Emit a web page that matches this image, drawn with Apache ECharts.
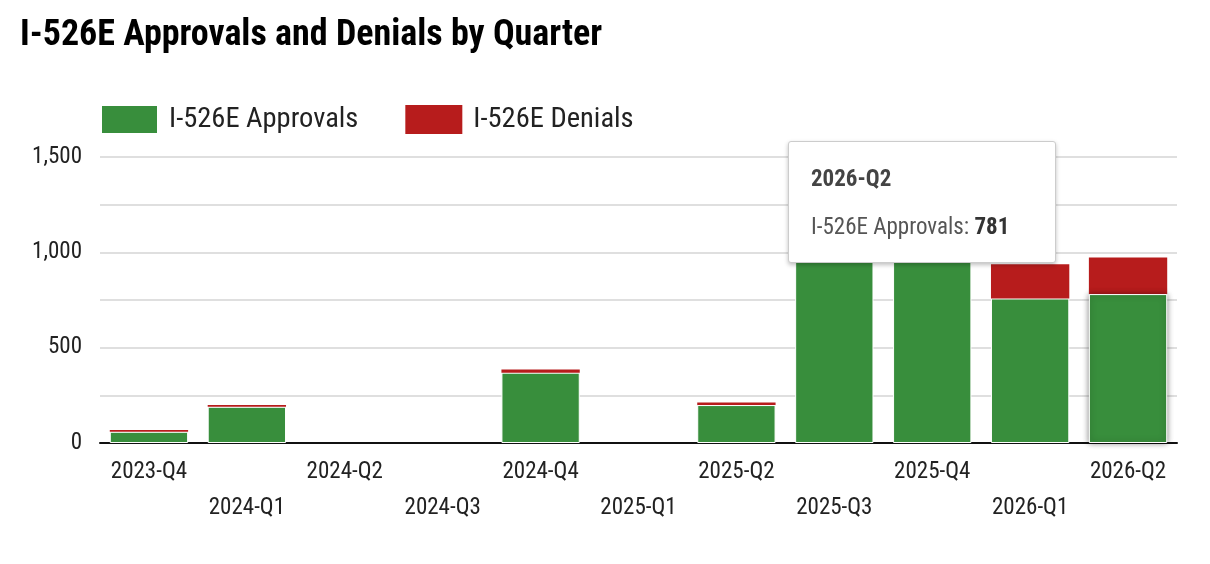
<!DOCTYPE html>
<html>
<head>
<meta charset="utf-8">
<script src="https://cdn.jsdelivr.net/npm/echarts@6/dist/echarts.min.js"></script>
<style>
  html, body { margin: 0; padding: 0; background: #fff; }
  #chart { width: 1210px; height: 564px; }
</style>
</head>
<body>
<div id="chart"></div>
<script>
// quarters on the x axis
const quarters = ['2023-Q4', '2024-Q1', '2024-Q2', '2024-Q3', '2024-Q4', '2025-Q1',
  '2025-Q2', '2025-Q3', '2025-Q4', '2026-Q1', '2026-Q2'];
// values (Q3/Q4 2025 tops are hidden by the tooltip, estimated)
const approvals = [59, 190, null, null, 369, null, 199, 1090, 1160, 758, 781];
const denials = [9, 9, null, null, 17, null, 14, 60, 100, 180, 192];
const yTicks = [0, 500, 1000, 1500];

const FONT = '"Roboto Condensed", "Liberation Sans Narrow", "DejaVu Sans Condensed", Roboto, sans-serif';

let chart = echarts.init(document.getElementById('chart'));
chart.setOption({
  animation: false,
  textStyle: { fontFamily: FONT },
  title: {
    text: 'I-526E Approvals and Denials by Quarter',
    left: 15,
    top: 13,
    textStyle: { fontFamily: FONT, fontSize: 36, fontWeight: 'bold', color: '#000' }
  },
  legend: {
    left: 100,
    top: 104,
    padding: 0,
    itemWidth: 57,
    itemHeight: 29,
    itemGap: 47,
    icon: 'rect',
    textStyle: { fontFamily: FONT, fontSize: 28.5, color: '#222', padding: [0, 0, 0, 6] }
  },
  tooltip: {
    trigger: 'item',
    triggerOn: 'none',
    alwaysShowContent: true,
    position: [788, 141],
    padding: 0,
    backgroundColor: '#fff',
    borderColor: '#ccc',
    borderWidth: 1,
    borderRadius: 3,
    extraCssText: 'box-shadow:0 2px 4px rgba(0,0,0,0.25);width:268px;height:122px;box-sizing:border-box;',
    formatter: function (p) {
      return '<div style="padding:22px 0 0 22px;font-family:' + FONT.replace(/"/g, "'") + ';">' +
        '<div style="font-weight:bold;font-size:23px;line-height:30px;color:#444">' + p.name + '</div>' +
        '<div style="margin-top:18px;font-size:23px;line-height:30px;color:#555">' +
        p.seriesName + ': <b style="color:#333">' + p.value + '</b></div></div>';
    }
  },
  grid: { left: 100, right: 33, top: 157, bottom: 121 },
  xAxis: {
    type: 'category',
    data: quarters,
    axisLine: { lineStyle: { color: '#111', width: 2 } },
    axisTick: { show: false },
    axisLabel: {
      interval: 0,
      margin: 11,
      fontSize: 23,
      lineHeight: 36,
      color: '#222',
      formatter: function (v, i) { return i % 2 ? '\n' + v : v; }
    }
  },
  yAxis: {
    type: 'value',
    min: 0,
    max: 1500,
    interval: 250,
    axisLine: { show: false },
    axisTick: { show: false },
    splitLine: { lineStyle: { color: '#d4d4d4', width: 1.5 } },
    axisLabel: {
      margin: 18,
      fontSize: 23,
      color: '#222',
      formatter: function (v) {
        return yTicks.indexOf(v) >= 0 ? v.toLocaleString('en-US') : '';
      }
    }
  },
  series: [
    {
      name: 'I-526E Approvals',
      type: 'bar',
      stack: 'total',
      barCategoryGap: '20%',
      color: '#388e3c',
      itemStyle: { borderColor: '#fff', borderWidth: 1 },
      emphasis: { itemStyle: { color: '#388e3c', shadowBlur: 6, shadowColor: 'rgba(0,0,0,0.45)' } },
      data: approvals
    },
    {
      name: 'I-526E Denials',
      type: 'bar',
      stack: 'total',
      color: '#b71c1c',
      itemStyle: { borderWidth: 0 },
      data: denials
    }
  ]
});

chart.dispatchAction({ type: 'highlight', seriesIndex: 0, dataIndex: 10 });
chart.dispatchAction({ type: 'showTip', seriesIndex: 0, dataIndex: 10 });
</script>
</body>
</html>
